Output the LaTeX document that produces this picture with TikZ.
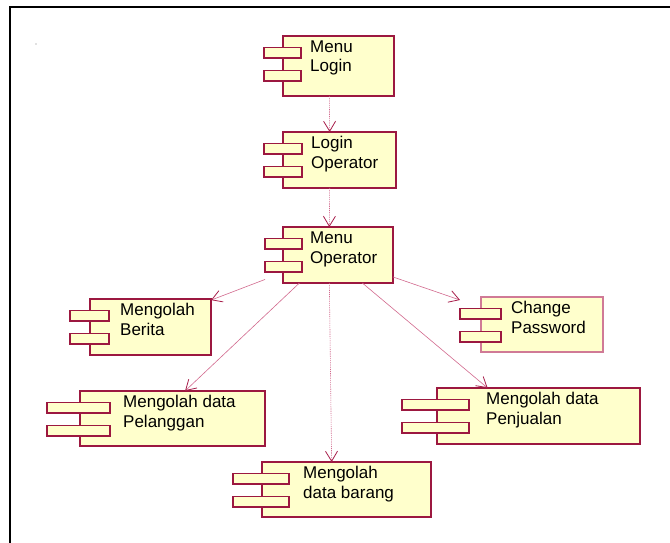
\documentclass[tikz,border=0pt]{standalone}
\usepackage{fontspec}
\setmainfont{Liberation Sans}
\usetikzlibrary{arrows.meta,fit}

\definecolor{compfill}{HTML}{FFFFCC}
\definecolor{compedge}{HTML}{9C1840}
\definecolor{compedgelight}{HTML}{D07A96}
\definecolor{deplink}{HTML}{D26A8E}
\definecolor{deptip}{HTML}{A8204C}

\tikzset{
  hull/.style={inner sep=0pt, outer sep=0pt},
  compline/.style={draw=compedge, fill=compfill, line width=1.2pt},
  tabline/.style={draw=compedge, fill=compfill, line width=1.2pt},
  comptext/.style={anchor=base west, inner sep=0pt, align=left, text=black,
    font=\fontsize{17}{19.5}\selectfont},
  dep/.style={draw=deplink, line width=0.6pt,
    -{Straight Barb[length=10pt,width=12pt,line width=0.8pt,color=deptip]}},
  depdot/.style={dep, dash pattern=on 1.2pt off 1pt},
}

% UML component: name, tab left, body left, tab right, body right,
% top, bottom, text x, two-line label (placed by its last baseline)
\newcommand\umlcomp[9]{%
  \node[hull, fit={(#2,#6) (#5,#7)}] (#1) {};
  \draw[compline] (#3,#6) rectangle (#5,#7);
  \draw[tabline] (#2,{#6+11.5}) rectangle (#4,{#6+22});
  \draw[tabline] (#2,{#6+34.5}) rectangle (#4,{#6+45});
  \node[comptext] at (#8,{#6+36}) {#9};
}

\begin{document}
\begin{tikzpicture}[x=1pt,y=-1pt]
  \useasboundingbox (0,0) rectangle (670,543);
  \fill[white] (0,0) rectangle (670,543);

  % outer frame
  \draw[line width=2pt] (10,545) -- (10,7) -- (672,7);
  \fill[gray] (36,44) circle (0.6);

  \umlcomp{menulogin}{264}{283}{301}{394}{36}{96}{310}{Menu\\Login}
  \umlcomp{loginop}{264}{283}{302}{396}{132}{188}{311}{Login\\Operator}
  \umlcomp{menuop}{265}{283}{302}{393}{227}{283}{310}{Menu\\Operator}
  \umlcomp{berita}{70}{90}{109}{211}{299}{355}{120}{Mengolah\\Berita}
  \begin{scope}[compline/.append style={draw=compedgelight}]
    \umlcomp{chpass}{460}{481}{501}{603}{297}{352}{511}{Change\\Password}
  \end{scope}
  \umlcomp{pelanggan}{47}{80}{110}{265}{391}{446}{123}{Mengolah data\\Pelanggan}
  \umlcomp{penjualan}{402}{437}{469}{640}{388}{444}{486}{Mengolah data\\Penjualan}
  \umlcomp{barang}{233}{262}{289}{431}{462}{517}{303}{Mengolah\\data barang}

  % dependencies
  \draw[depdot] (menulogin) -- (loginop);
  \draw[depdot] (loginop) -- (menuop);
  \draw[dep] (menuop) -- (berita);
  \draw[dep] (menuop) -- (chpass);
  \draw[dep] (menuop) -- (pelanggan);
  \draw[dep] (menuop) -- (penjualan);
  \draw[depdot] (menuop) -- (barang);
\end{tikzpicture}
\end{document}
